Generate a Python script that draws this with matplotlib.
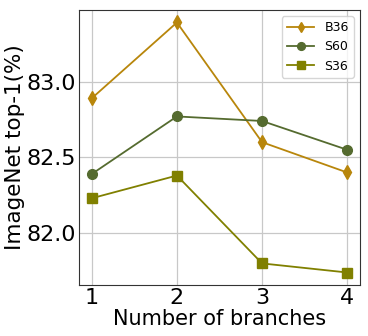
import matplotlib
matplotlib.use("Agg")
import matplotlib.pyplot as plt

branches = [1, 2, 3, 4]
b36 = [82.89, 83.39, 82.60, 82.40]
s60 = [82.39, 82.77, 82.74, 82.55]
s36 = [82.23, 82.38, 81.80, 81.74]
yticks = [82.0, 82.5, 83.0]

fig = plt.figure(figsize=(3.68, 3.36), dpi=100)
ax = fig.add_axes([79/368, 1 - 285/336, (360-79)/368, (285-10)/336])
ax.plot(branches, b36, marker='d', color='#b8860b', label='B36', markersize=7, linewidth=1.3)
ax.plot(branches, s60, marker='o', color='#556b2f', label='S60', markersize=7, linewidth=1.3)
ax.plot(branches, s36, marker='s', color='#808000', label='S36', markersize=7, linewidth=1.3)
ax.set_xticks(branches)
ax.set_yticks(yticks)
ax.set_yticklabels([f"{v:.1f}" for v in yticks])
ax.tick_params(labelsize=16, length=0, pad=2)
ax.set_xlabel("Number of branches", fontsize=15, labelpad=1)
ax.set_ylabel("ImageNet top-1(%)", fontsize=15.5, labelpad=1)
ax.grid(True, color='#c8c8c8', linewidth=0.9)
for s in ax.spines.values():
    s.set_color('#333333')
ax.legend(fontsize=9, loc='upper right', markerscale=0.8, handlelength=2.2)
fig.savefig("out.png", dpi=100)
